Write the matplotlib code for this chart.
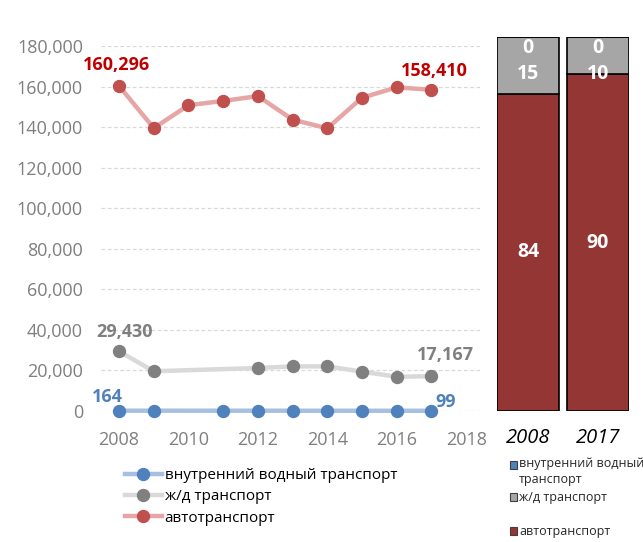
import matplotlib
matplotlib.use("Agg")
import matplotlib.pyplot as plt
from matplotlib.lines import Line2D
from matplotlib.patches import Rectangle
import numpy as np
from matplotlib.ticker import FuncFormatter

plt.rcParams['font.family'] = ['Open Sans', 'DejaVu Sans']

years = [2008, 2009, 2010, 2011, 2012, 2013, 2014, 2015, 2016, 2017]
auto = [160296, 139500, 150800, 152900, 155300, 143700, 139400, 154500, 159600, 158410]
rail = [29430, 19600, None, None, 21200, 22000, 22000, 19400, 16900, 17167]
water = [164, 150, None, 140, 135, 130, 125, 120, 110, 99]

series_names = ["внутренний водный транспорт", "ж/д транспорт", "автотранспорт"]
share_years = ["2008", "2017"]
share_water = [0, 0]
share_rail = [15, 10]
share_auto = [84, 90]

PX = 0.72  # points per pixel at dpi 100

fig = plt.figure(figsize=(6.43, 5.42), dpi=100)
ax = fig.add_axes([101/643, 1-411/542, 379/643, 365/542])

def plot_series(vals, line_c, mark_c):
    x = np.array([y for y, v in zip(years, vals) if v is not None])
    y = np.array([v for v in vals if v is not None])
    ax.plot(x, y, color=line_c, lw=3.2, solid_capstyle='round', zorder=2, clip_on=False)
    ax.plot(x, y, 'o', color=mark_c, ms=8.6, zorder=3, clip_on=False)

plot_series(water, '#A7C0E0', '#4F81BD')
plot_series(rail, '#D9D9D9', '#808080')
plot_series(auto, '#E6A6A6', '#C0504D')

ax.set_xlim(2007.48, 2018.4)
ax.set_ylim(0, 180000)
ax.set_xticks(range(2008, 2019, 2))
ax.set_yticks(range(0, 180001, 20000))
ax.yaxis.set_major_formatter(FuncFormatter(lambda v, p: f"{int(v):,}"))
ax.tick_params(length=0, labelsize=13, labelcolor='#7F7F7F')
ax.tick_params(axis='x', pad=14.5)
ax.tick_params(axis='y', pad=13)
for s in ax.spines.values():
    s.set_visible(False)
ax.grid(axis='y', color='#D9D9D9', ls=(0, (3, 2)), lw=0.9)
ax.set_axisbelow(True)

lab = dict(fontsize=13, fontweight='bold', textcoords='offset points', va='center')
def note(txt, xy, dx, dy, color, ha='center'):
    ax.annotate(txt, xy, xytext=(dx*PX, dy*PX), ha=ha, color=color, **lab)

note(f"{auto[0]:,}", (years[0], auto[0]), -2, 21, '#C00000')
note(f"{auto[-1]:,}", (years[-1], auto[-1]), 3, 19, '#C00000')
note(f"{rail[0]:,}", (years[0], rail[0]), 5, 19, '#7F7F7F')
note(f"{rail[-1]:,}", (years[-1], rail[-1]), 14, 21, '#7F7F7F')
note(f"{water[0]:,}", (years[0], water[0]), -12, 14, '#4F81BD')
note(f"{water[-1]:,}", (years[-1], water[-1]), 4, 9, '#4F81BD', ha='left')

handles = [
    Line2D([], [], color='#A7C0E0', lw=3.2, marker='o', ms=8.6, mfc='#4F81BD', mec='#4F81BD'),
    Line2D([], [], color='#D9D9D9', lw=3.2, marker='o', ms=8.6, mfc='#808080', mec='#808080'),
    Line2D([], [], color='#E6A6A6', lw=3.2, marker='o', ms=8.6, mfc='#C0504D', mec='#C0504D'),
]
fig.legend(handles, series_names, loc='upper left', bbox_to_anchor=(125/643, 1-468/542),
           frameon=False, fontsize=11, handlelength=2.4, labelspacing=0.42,
           handletextpad=0.2, borderaxespad=0, borderpad=0)

# 100% stacked share bars
bx = fig.add_axes([497/643, 1-411/542, 132/643, 374/542])
pos = np.arange(len(share_years))
w = 62/70
tot = np.array(share_auto) + np.array(share_rail) + np.array(share_water)
pa = np.array(share_auto) / tot * 100
pr = np.array(share_rail) / tot * 100
pw = np.array(share_water) / tot * 100
bx.bar(pos, pa, width=w, color='#943634', edgecolor='black', lw=1.2)
bx.bar(pos, pr, width=w, bottom=pa, color='#A6A6A6', edgecolor='black', lw=1.2)
bx.bar(pos, pw, width=w, bottom=pa+pr, color='#4F81BD', edgecolor='black', lw=1.2)
bx.set_xlim(-w/2, 1 + w/2)
bx.set_ylim(0, 100)
bx.axis('off')
for i in range(len(share_years)):
    bx.text(pos[i], pa[i]/2, str(share_auto[i]), ha='center', va='center', color='white', fontsize=14, fontweight='bold')
    bx.text(pos[i], 90, str(share_rail[i]), ha='center', va='center', color='white', fontsize=14, fontweight='bold')
    bx.text(pos[i], 97, str(share_water[i]), ha='center', va='center', color='white', fontsize=14, fontweight='bold')
    bx.text(pos[i], -7.3, share_years[i], ha='center', va='center', color='black', fontsize=14.5, style='italic')

fx = 510/643
fs = 9
ys = [465, 497, 531]
labels2 = ["внутренний водный\nтранспорт", "ж/д транспорт", "автотранспорт"]
cols = ['#4F81BD', '#A6A6A6', '#943634']
for yy, c in zip(ys, cols):
    fig.patches.append(Rectangle((fx, 1-(yy+4)/542), 7/643, 8/542, transform=fig.transFigure,
                                 facecolor=c, edgecolor='#404040', lw=0.8))
fig.text(fx + 9/643, 1-(465-8)/542, labels2[0], ha='left', va='top', fontsize=fs, color='#262626', linespacing=1.25)
fig.text(fx + 9/643, 1-497/542, labels2[1], ha='left', va='center', fontsize=fs, color='#262626')
fig.text(fx + 9/643, 1-531/542, labels2[2], ha='left', va='center', fontsize=fs, color='#262626')

fig.savefig("out.png", dpi=100)
